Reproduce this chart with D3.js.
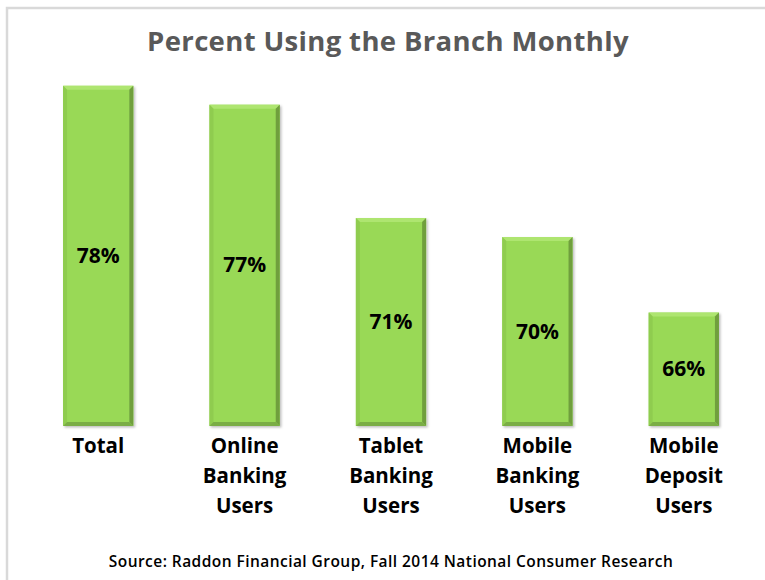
<!DOCTYPE html>
<html><head><meta charset="utf-8">
<script src="https://cdn.jsdelivr.net/npm/d3@7"></script>
<style>body{margin:0;background:#fff}svg{display:block}</style>
</head><body>
<svg id="c" width="765" height="580"></svg>
<script>
const categories = [["Total"],["Online","Banking","Users"],["Tablet","Banking","Users"],["Mobile","Banking","Users"],["Mobile","Deposit","Users"]];
const values = [78,77,71,70,66];
const valueLabels = ["78%","77%","71%","70%","66%"];
const title = "Percent Using the Branch Monthly";
const source = "Source: Raddon Financial Group, Fall 2014 National Consumer Research";

const svg = d3.select("#c");
const font = "'Open Sans', 'DejaVu Sans', sans-serif";
// frame
svg.append("path").attr("d","M7,580 V8 H765").attr("fill","none").attr("stroke","#d9d9d9").attr("stroke-width",2.5);

const x = d3.scaleBand().domain(d3.range(values.length)).range([25,757]).paddingInner(0.52).paddingOuter(0.26);
const y = d3.scaleLinear().domain([60,80]).range([426,48]);

const defs = svg.append("defs");
const f = defs.append("filter").attr("id","sh").attr("x","-20%").attr("y","-20%").attr("width","140%").attr("height","140%");
f.append("feDropShadow").attr("dx",1.5).attr("dy",1.5).attr("stdDeviation",1.2).attr("flood-color","#000").attr("flood-opacity",0.25);

const b = 4;
const g = svg.selectAll("g.bar").data(values).join("g").attr("class","bar").attr("filter","url(#sh)");
g.each(function(v,i){
  const x0 = x(i), x1 = x(i)+x.bandwidth(), y0 = y(v), y1 = y(60);
  const s = d3.select(this);
  s.append("rect").attr("x",x0).attr("y",y0).attr("width",x1-x0).attr("height",y1-y0).attr("fill","#99d957");
  s.append("polygon").attr("points",`${x0},${y0} ${x1},${y0} ${x1-b},${y0+b} ${x0+b},${y0+b}`).attr("fill","#aee570");
  s.append("polygon").attr("points",`${x0},${y0} ${x0+b},${y0+b} ${x0+b},${y1-b} ${x0},${y1}`).attr("fill","#8fcc4f");
  s.append("polygon").attr("points",`${x1},${y0} ${x1},${y1} ${x1-b},${y1-b} ${x1-b},${y0+b}`).attr("fill","#6f9f3e");
  s.append("polygon").attr("points",`${x0},${y1} ${x1},${y1} ${x1-b},${y1-b} ${x0+b},${y1-b}`).attr("fill","#7aad45");
});

svg.selectAll("text.val").data(values).join("text").attr("class","val")
  .attr("x",(d,i)=>x(i)+x.bandwidth()/2).attr("y",d=>(y(d)+y(60))/2+7)
  .attr("text-anchor","middle").attr("font-family",font).attr("font-weight","bold").attr("font-size",21)
  .attr("fill","#000").text((d,i)=>valueLabels[i]);

const cat = svg.selectAll("text.cat").data(categories).join("text").attr("class","cat")
  .attr("x",(d,i)=>x(i)+x.bandwidth()/2).attr("y",453)
  .attr("text-anchor","middle").attr("font-family",font).attr("font-weight","bold").attr("font-size",20.5).attr("fill","#000");
cat.selectAll("tspan").data((d,i)=>d.map(t=>({t,i}))).join("tspan")
  .attr("x",d=>x(d.i)+x.bandwidth()/2).attr("dy",(d,j)=>j?30:0).text(d=>d.t);

svg.append("text").attr("x",388).attr("y",51).attr("text-anchor","middle").attr("font-family",font)
  .attr("font-weight","bold").attr("font-size",27.5).attr("fill","#595959").attr("letter-spacing",0.35).text(title);
svg.append("text").attr("x",391).attr("y",567).attr("text-anchor","middle").attr("font-family",font)
  .attr("font-weight","600").attr("font-size",15.5).attr("letter-spacing",0.45).attr("fill","#000").text(source);
</script>
</body></html>
